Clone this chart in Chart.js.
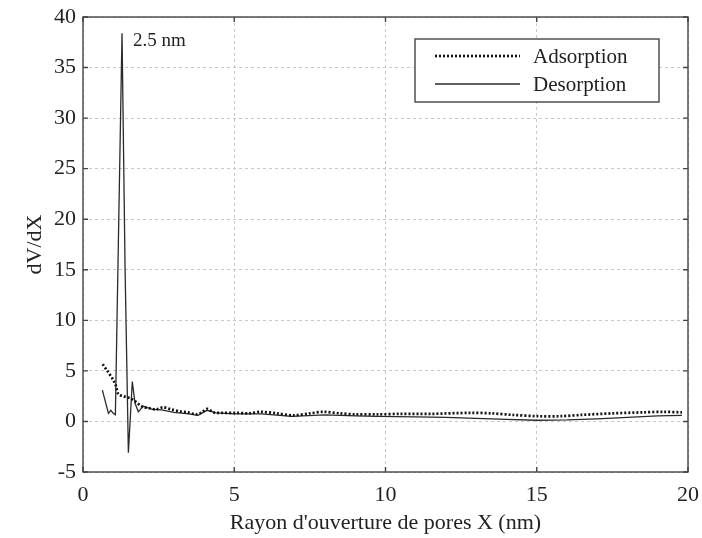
<!DOCTYPE html>
<html>
<head>
<meta charset="utf-8">
<script src="https://cdn.jsdelivr.net/npm/chart.js@4.4.0/dist/chart.umd.min.js"></script>
<style>
  html, body { margin: 0; padding: 0; background: #fff; }
  #wrap { width: 702px; height: 538px; }
</style>
</head>
<body>
<div id="wrap"><canvas id="c" width="702" height="538"></canvas></div>
<script>
// ---- Data ----
const xTitle = "Rayon d'ouverture de pores X (nm)";
const yTitle = "dV/dX";
const peakLabel = "2.5 nm";
const peakX = 1.29;
const peakY = 38.4;

const adsorptionLabel = "Adsorption";
const adsorptionX = [0.65, 0.78, 1.0, 1.09, 1.17, 1.33, 1.55, 1.72, 1.94, 2.2, 2.42, 2.65, 2.9, 3.2, 3.45, 3.75, 3.93, 4.1, 4.32, 4.6, 5.08, 5.5, 5.87, 6.4, 6.95, 7.5, 7.95, 8.5, 9.0, 9.72, 10.5, 11.5, 12.8, 13.5, 14.2, 15.04, 15.8, 16.5, 17.5, 18.5, 19.2, 19.8];
const adsorptionY = [5.66, 5.1, 4.1, 3.5, 2.7, 2.5, 2.3, 2.0, 1.5, 1.3, 1.2, 1.4, 1.2, 1.0, 0.9, 0.7, 0.9, 1.25, 0.9, 0.85, 0.85, 0.8, 0.95, 0.8, 0.6, 0.8, 0.95, 0.8, 0.7, 0.7, 0.75, 0.75, 0.85, 0.8, 0.65, 0.52, 0.52, 0.65, 0.8, 0.9, 0.95, 0.9];

const desorptionLabel = "Desorption";
const desorptionX = [0.64, 0.84, 0.92, 1.0, 1.07, 1.29, 1.39, 1.5, 1.63, 1.72, 1.83, 1.99, 2.3, 2.6, 3.0, 3.5, 3.8, 4.1, 4.4, 5.0, 5.9, 6.9, 8.0, 9.0, 9.7, 11.0, 12.0, 13.0, 14.0, 15.0, 16.0, 17.0, 18.0, 19.0, 19.8];
const desorptionY = [3.1, 0.8, 1.1, 0.8, 0.65, 38.4, 15.3, -3.1, 3.95, 1.8, 0.95, 1.5, 1.2, 1.15, 0.9, 0.75, 0.6, 1.1, 0.85, 0.75, 0.75, 0.5, 0.65, 0.55, 0.5, 0.45, 0.4, 0.3, 0.2, 0.12, 0.15, 0.25, 0.4, 0.55, 0.6];

const xTicks = [0, 5, 10, 15, 20];
const yTicks = [-5, 0, 5, 10, 15, 20, 25, 30, 35, 40];

// ---- Chart ----
const FONT = "'Liberation Serif', 'Times New Roman', serif";
const toPts = (xs, ys) => xs.map((x, i) => ({ x: x, y: ys[i] }));

const frameAndTicks = {
  id: 'frameAndTicks',
  afterDraw(chart) {
    const { ctx, chartArea: a, scales } = chart;
    ctx.save();
    ctx.strokeStyle = '#444';
    ctx.lineWidth = 1.4;
    ctx.strokeRect(a.left, a.top, a.right - a.left, a.bottom - a.top);
    const L = 5;
    ctx.beginPath();
    scales.x.ticks.forEach(t => {
      const px = scales.x.getPixelForValue(t.value);
      ctx.moveTo(px, a.bottom); ctx.lineTo(px, a.bottom - L);
      ctx.moveTo(px, a.top); ctx.lineTo(px, a.top + L);
    });
    scales.y.ticks.forEach(t => {
      const py = scales.y.getPixelForValue(t.value);
      ctx.moveTo(a.left, py); ctx.lineTo(a.left + L, py);
      ctx.moveTo(a.right, py); ctx.lineTo(a.right - L, py);
    });
    ctx.stroke();

    // peak annotation, anchored to the data point through the scales
    const ax = scales.x.getPixelForValue(peakX);
    const ay = scales.y.getPixelForValue(peakY);
    ctx.fillStyle = '#222';
    ctx.font = '19px ' + FONT;
    ctx.textBaseline = 'middle';
    ctx.textAlign = 'left';
    ctx.fillText(peakLabel, ax + 11, ay + 8);

    // legend box
    const bx = 415, by = 39, bw = 244, bh = 63;
    ctx.fillStyle = '#fff';
    ctx.fillRect(bx, by, bw, bh);
    ctx.strokeStyle = '#444';
    ctx.lineWidth = 1.4;
    ctx.strokeRect(bx, by, bw, bh);
    chart.data.datasets.forEach((ds, i) => {
      const ly = by + 17 + i * 28;
      ctx.beginPath();
      ctx.strokeStyle = ds.borderColor;
      ctx.lineWidth = ds.borderWidth;
      ctx.setLineDash(ds.borderDash || []);
      ctx.moveTo(bx + 20, ly); ctx.lineTo(bx + 105, ly);
      ctx.stroke();
      ctx.setLineDash([]);
      ctx.fillStyle = '#222';
      ctx.font = '21px ' + FONT;
      ctx.textBaseline = 'middle';
      ctx.fillText(ds.label, bx + 118, ly + 1);
    });
    ctx.restore();
  }
};

new Chart(document.getElementById('c'), {
  type: 'line',
  data: {
    datasets: [
      {
        label: adsorptionLabel,
        data: toPts(adsorptionX, adsorptionY),
        borderColor: '#111',
        borderWidth: 2.7,
        borderDash: [2, 2],
        pointRadius: 0,
        tension: 0.3,
        fill: false
      },
      {
        label: desorptionLabel,
        data: toPts(desorptionX, desorptionY),
        borderColor: '#2a2a2a',
        borderWidth: 1.3,
        pointRadius: 0,
        tension: 0,
        fill: false
      }
    ]
  },
  options: {
    responsive: false,
    animation: false,
    devicePixelRatio: 1,
    layout: { padding: { top: 17, right: 14, left: 0, bottom: 0 } },
    plugins: { legend: { display: false }, tooltip: { enabled: false } },
    scales: {
      x: {
        type: 'linear',
        min: 0, max: 20,
        afterBuildTicks: s => { s.ticks = xTicks.map(v => ({ value: v })); },
        afterFit: s => { s.height = 66; s.paddingLeft = 0; s.paddingRight = 0; },
        grid: { color: '#c8c8c8', lineWidth: 1, drawTicks: false },
        border: { display: false, dash: [3, 3] },
        ticks: { color: '#222', font: { family: FONT, size: 22 }, padding: 10, maxRotation: 0 },
        title: { display: true, text: xTitle, color: '#222', font: { family: FONT, size: 22 }, padding: { top: 0, bottom: 2 } }
      },
      y: {
        type: 'linear',
        min: -5, max: 40,
        afterBuildTicks: s => { s.ticks = yTicks.map(v => ({ value: v })); },
        afterFit: s => { s.width = 83; s.paddingTop = 0; s.paddingBottom = 0; },
        grid: { color: '#c8c8c8', lineWidth: 1, drawTicks: false },
        border: { display: false, dash: [3, 3] },
        ticks: { color: '#222', font: { family: FONT, size: 22 }, padding: 7 },
        title: { display: true, text: yTitle, color: '#222', font: { family: FONT, size: 22 }, padding: { top: 22, bottom: 0 } }
      }
    }
  },
  plugins: [frameAndTicks]
});
</script>
</body>
</html>
